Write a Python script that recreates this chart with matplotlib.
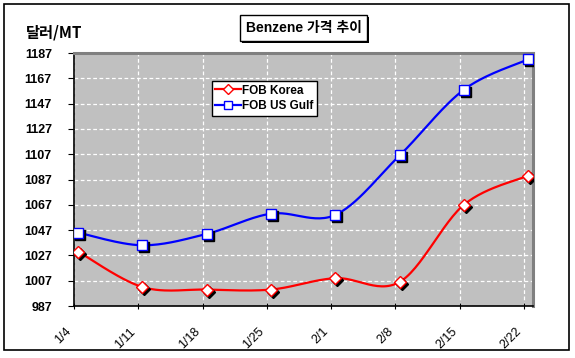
import numpy as np
import matplotlib
matplotlib.use("Agg")
import matplotlib.pyplot as plt
from matplotlib.patches import Rectangle
from matplotlib.transforms import ScaledTranslation

plt.rcParams['font.family'] = ['Liberation Sans', 'Noto Sans CJK KR', 'DejaVu Sans']

categories = ["1/4", "1/11", "1/18", "1/25", "2/1", "2/8", "2/15", "2/22"]
fob_korea = [1030, 1002, 1000, 1000, 1009, 1006, 1067, 1090]
fob_us_gulf = [1045, 1035, 1044, 1060, 1059, 1106, 1158, 1182]
yticks = [987, 1007, 1027, 1047, 1067, 1087, 1107, 1127, 1147, 1167, 1187]
title = "Benzene 가격 추이"
ylabel = "달러/MT"


def smooth(x, y, n=30):
    x = np.asarray(x, float)
    y = np.asarray(y, float)
    px = np.concatenate([[x[0]], x, [x[-1]]])
    py = np.concatenate([[y[0]], y, [y[-1]]])
    xs, ys = [], []
    for i in range(len(x) - 1):
        p0 = np.array([x[i], y[i]])
        p3 = np.array([x[i + 1], y[i + 1]])
        p1 = p0 + (np.array([px[i + 2], py[i + 2]]) - np.array([px[i], py[i]])) / 6
        p2 = p3 - (np.array([px[i + 3], py[i + 3]]) - np.array([px[i + 1], py[i + 1]])) / 6
        t = np.linspace(0, 1, n)[:, None]
        b = (1 - t) ** 3 * p0 + 3 * (1 - t) ** 2 * t * p1 + 3 * (1 - t) * t ** 2 * p2 + t ** 3 * p3
        xs.append(b[:, 0])
        ys.append(b[:, 1])
    return np.concatenate(xs), np.concatenate(ys)


W, H = 575, 358
fig = plt.figure(figsize=(W / 100, H / 100), dpi=100)
fig.patch.set_facecolor('white')

# outer border
fig.patches.append(Rectangle((4 / W, 1 - 350 / H), 565 / W, 346 / H, transform=fig.transFigure,
                             fill=False, edgecolor='black', linewidth=1.2, zorder=0))

ax = fig.add_axes([74 / W, 1 - 306 / H, 459 / W, 253 / H])
ax.set_facecolor('#C0C0C0')

x = np.arange(len(categories))
xm = x + 0.065
ax.set_xlim(0, 7.14)
ax.set_ylim(987, 1187)
ax.set_yticks(yticks)
ax.set_yticklabels([str(v) for v in yticks], fontsize=9, fontweight='bold')
ax.set_xticks(x)
ax.set_xticklabels(categories, rotation=45, ha='right', va='top', fontsize=9, fontweight='normal')
ax.tick_params(axis='x', length=4, direction='inout', pad=12)
ax.tick_params(axis='y', length=4, direction='out', pad=12)
ax.grid(True, color='white', linestyle=(0, (3, 2)), linewidth=0.9)
ax.set_axisbelow(True)

for s in ['left', 'bottom']:
    ax.spines[s].set_color('black')
    ax.spines[s].set_linewidth(1.2)
for s in ['top', 'right']:
    ax.spines[s].set_color('#808080')
    ax.spines[s].set_linewidth(2.2)

shadow = ax.transData + ScaledTranslation(2 / 100, -2 / 100, fig.dpi_scale_trans)

sx, sy = smooth(xm, fob_korea)
ax.plot(sx, sy, color='#FF0000', linewidth=1.6, zorder=3)
ax.plot(xm, fob_korea, linestyle='none', marker='D', markersize=6.5, color='black', transform=shadow, zorder=4)
ax.plot(xm, fob_korea, linestyle='none', marker='D', markersize=6.5, markerfacecolor='white',
        markeredgecolor='#FF0000', markeredgewidth=1.0, zorder=5)

sx, sy = smooth(xm, fob_us_gulf)
ax.plot(sx, sy, color='#0000FF', linewidth=1.6, zorder=3)
ax.plot(xm, fob_us_gulf, linestyle='none', marker='s', markersize=6.5, color='black', transform=shadow, zorder=4)
ax.plot(xm, fob_us_gulf, linestyle='none', marker='s', markersize=6.5, markerfacecolor='white',
        markeredgecolor='#0000FF', markeredgewidth=1.0, zorder=5)

# legend
h1, = ax.plot([], [], color='#FF0000', linewidth=1.6, marker='D', markersize=5.5,
              markerfacecolor='white', markeredgecolor='#FF0000')
h2, = ax.plot([], [], color='#0000FF', linewidth=1.6, marker='s', markersize=5.5,
              markerfacecolor='white', markeredgecolor='#0000FF')
leg = ax.legend([h1, h2], ['FOB Korea', 'FOB US Gulf'], loc='upper left',
                bbox_to_anchor=(0.30, 0.889), borderaxespad=0, fancybox=False,
                edgecolor='black', framealpha=1, handlelength=2.2, handletextpad=0.1,
                borderpad=0.3, labelspacing=0.3, prop={'weight': 'bold', 'size': 8.5})
leg.get_frame().set_linewidth(1.0)
leg.set_zorder(10)

# title box with shadow
fig.patches.append(Rectangle((242 / W, 1 - 43 / H), 127 / W, 26 / H, transform=fig.transFigure,
                             facecolor='black', edgecolor='none', zorder=1))
fig.patches.append(Rectangle((240 / W, 1 - 41 / H), 127 / W, 26 / H, transform=fig.transFigure,
                             facecolor='white', edgecolor='black', linewidth=1.0, zorder=2))
fig.text(303.5 / W, 1 - 28 / H, title, ha='center', va='center', fontsize=10, fontweight='bold',
         family=['Liberation Sans', 'Noto Sans CJK KR'], zorder=3)

fig.text(26 / W, 1 - 33 / H, ylabel, ha='left', va='center', fontsize=11, fontweight='bold',
         family=['Noto Sans CJK KR', 'Liberation Sans'])

fig.savefig('out.png', dpi=100)
